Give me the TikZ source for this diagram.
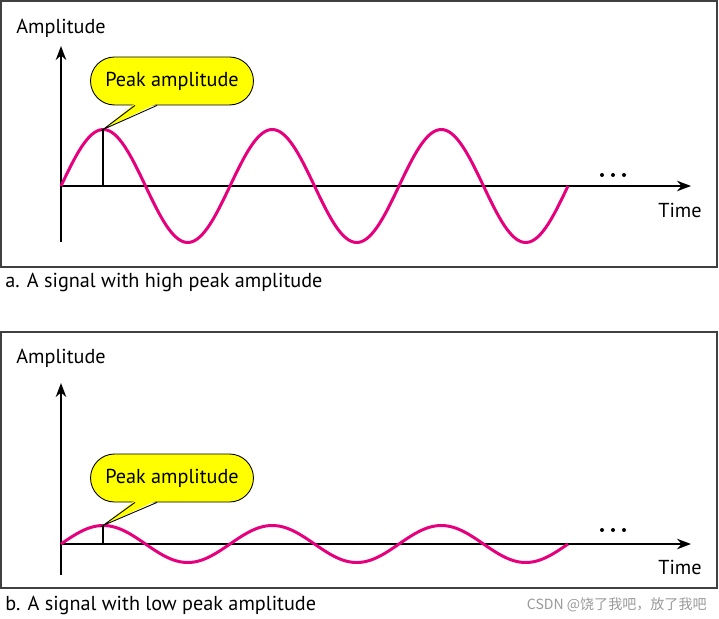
\documentclass[tikz,border=0pt]{standalone}
\usepackage{fontspec}
\setmainfont{PT Sans}
\newfontfamily\cjk{Noto Sans CJK SC}
\usetikzlibrary{arrows.meta,positioning,shapes.misc,calc}
\definecolor{wavepink}{RGB}{230,0,126}
\definecolor{calloutyellow}{RGB}{255,255,0}

\begin{document}
\begin{tikzpicture}[
        x=0.02cm, y=-0.02cm,
        font=\fontsize{11.5}{14}\selectfont,
        frame/.style={draw=black!75, line width=1.2pt},
        axis/.style={-{Stealth[length=8pt, width=6pt]}, line width=1pt},
        wave/.style={wavepink, line width=1.7pt},
        peakbox/.style={rounded rectangle, draw, fill=calloutyellow, line width=0.5pt, minimum width=3.4cm, minimum height=0.96cm, inner sep=2pt},
        txt/.style={anchor=west, inner sep=0pt}
    ]
    \useasboundingbox (0,0) rectangle (719,618);

    % a. high peak amplitude
    \draw[frame] (1,1) rectangle (717,267);
    \coordinate (a-o) at (61,186);
    \coordinate (a-bot) at (61,242);
    \coordinate (a-top) at (61,46);
    \coordinate (a-end) at (691,186);
    \coordinate (a-foot) at (103,186);
    \coordinate (a-tip) at (103,129.5);
    \node[txt] (a-amp) at (16,28) {Amplitude};
    \node[txt] (a-time) at (658,210) {Time};
    \draw[axis] (a-bot) -- (a-top);
    \draw[axis] (a-o) -- (a-end);
    \draw[wave] plot[domain=0:507, samples=200, smooth] ({61+\x},{186-56.5*sin(\x/169*360)});
    \draw[line width=0.6pt] (a-foot) -- (a-tip);
    \foreach \d in {602,613,624} \fill (\d,175) circle (2);
    \node[peakbox] (a-call) at (172,81) {Peak amplitude};
    \fill[calloutyellow] ($(a-call.south)+(-37,-2)$) -- (a-tip) -- ($(a-call.south)+(-15,-2)$) -- cycle;
    \draw[line width=0.5pt] ($(a-call.south)+(-37,0)$) -- (a-tip) -- ($(a-call.south)+(-15,0)$);
    \node[txt] (a-cap) at (5,282) {a. A signal with high peak amplitude};

    % b. low peak amplitude
    \draw[frame] (1,332) rectangle (717,588);
    \coordinate (b-o) at (61,544);
    \coordinate (b-bot) at (61,575);
    \coordinate (b-top) at (61,383);
    \coordinate (b-end) at (691,544);
    \coordinate (b-foot) at (103,544);
    \coordinate (b-tip) at (103,525.5);
    \node[txt] (b-amp) at (16,358) {Amplitude};
    \node[txt] (b-time) at (658,567) {Time};
    \draw[axis] (b-bot) -- (b-top);
    \draw[axis] (b-o) -- (b-end);
    \draw[wave] plot[domain=0:507, samples=200, smooth] ({61+\x},{544-18.5*sin(\x/169*360)});
    \draw[line width=0.6pt] (b-foot) -- (b-tip);
    \foreach \d in {602,613,624} \fill (\d,530) circle (2);
    \node[peakbox] (b-call) at (172,478) {Peak amplitude};
    \fill[calloutyellow] ($(b-call.south)+(-37,-2)$) -- (b-tip) -- ($(b-call.south)+(-15,-2)$) -- cycle;
    \draw[line width=0.5pt] ($(b-call.south)+(-37,0)$) -- (b-tip) -- ($(b-call.south)+(-15,0)$);
    \node[txt] (b-cap) at (5,605) {b. A signal with low peak amplitude};

    \node[anchor=east, inner sep=0pt, text=black!40, font=\cjk\fontsize{8}{10}\selectfont] (mark) at (707,605) {CSDN @饶了我吧，放了我吧};
\end{tikzpicture}
\end{document}
